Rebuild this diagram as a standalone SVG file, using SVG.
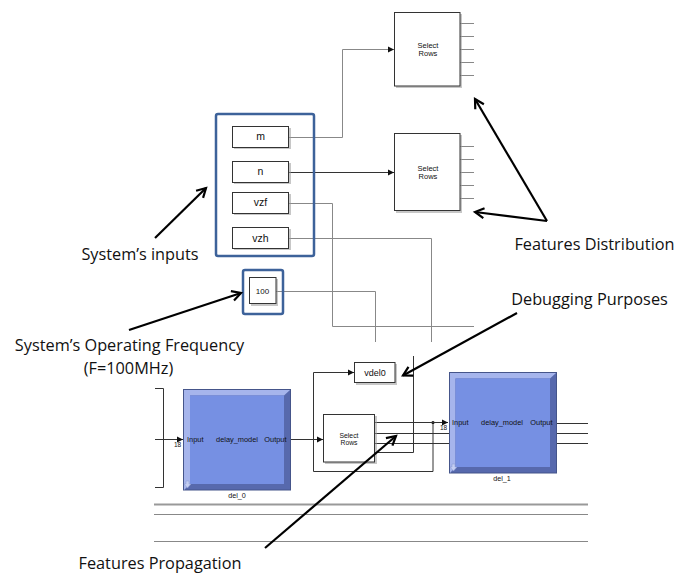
<svg xmlns="http://www.w3.org/2000/svg" width="677" height="574" viewBox="0 0 677 574">
<style>
.ann{font-family:"Open Sans","Liberation Sans",sans-serif;font-size:16.3px;fill:#111;text-anchor:middle}
.blk{fill:#fff;stroke:#333;stroke-width:1}
.shd{fill:#999;opacity:.55}
.lbl{font-family:"Liberation Sans",Arial,sans-serif;fill:#111;text-anchor:middle}
.grp{fill:none;stroke:#3d629a;stroke-width:2.5}
.gl{fill:none;stroke:#888;stroke-width:1}
.dl{fill:none;stroke:#333;stroke-width:1}
.arw{fill:none;stroke:#000;stroke-width:2.2}
.sm{font-family:"Liberation Sans",Arial,sans-serif;font-size:6.5px;fill:#111}
.face{fill:#7690e3}
.dark{fill:#5769ad;stroke:#45558a;stroke-width:1}
.light{fill:#a6b5ec}
</style>
<defs>
<marker id="sig" markerUnits="userSpaceOnUse" markerWidth="7" markerHeight="7" refX="6" refY="3" orient="auto" overflow="visible">
<path d="M0,0 L6,3 L0,6 z" fill="#111"/>
</marker>
<marker id="open" markerUnits="userSpaceOnUse" markerWidth="12" markerHeight="12" refX="9" refY="5" orient="auto" overflow="visible">
<path d="M0,0 L9,5 L0,10" fill="none" stroke="#000" stroke-width="2.2"/>
</marker>
</defs>
<rect width="677" height="574" fill="#fff"/>

<g id="connectors">
<path class="gl" d="M289,137.5 H342.5 V49.5 H394" marker-end="url(#sig)"/>
<path class="dl" d="M289,172.5 H394" marker-end="url(#sig)"/>
<path class="gl" d="M289,203.5 H332.5 V326.5 H474"/>
<path class="gl" d="M289,238.5 H431.5 V342"/>
<path class="gl" d="M276,291.5 H375.5 V342"/>
<path class="gl" d="M460,23.5 H474 M460,36.5 H474 M460,49.5 H474 M460,62.5 H474 M460,75.5 H474"/>
<path class="gl" d="M460,146.5 H474 M460,159.5 H474 M460,172.5 H474 M460,185.5 H474 M460,198.5 H474"/>
<path class="dl" d="M433,423 V471.5 H313.5 V372.5 H354" marker-end="url(#sig)"/>
<circle cx="433" cy="422.5" r="1.6" fill="#111"/>
<path class="dl" d="M375,422.5 H448" marker-end="url(#sig)"/>
<path class="dl" d="M375,433.5 H588 M375,443.5 H588"/>
<path class="dl" d="M375,452.5 H413.5 V356"/>
<path class="dl" d="M290,439.5 H323" marker-end="url(#sig)"/>
<path class="dl" d="M155,439.5 H183" marker-end="url(#sig)"/>
<path class="dl" d="M155,388.5 H163.5 V487.5 H155"/>
<path class="dl" d="M557,423.5 H588"/>
<path fill="none" stroke="#999" stroke-width="2" d="M154,504.5 H588"/>
<path class="gl" d="M154,514.5 H588 M154,541.5 H588"/>
</g>

<g id="selrows1">
<rect class="shd" x="396" y="14" width="66" height="74"/>
<rect class="blk" x="394.5" y="12.5" width="65.5" height="73.5"/>
<text class="lbl" font-size="7.5" x="428" y="47.5">Select</text>
<text class="lbl" font-size="7.5" x="428" y="55.5">Rows</text>
</g>
<g id="selrows2">
<rect class="shd" x="396" y="135" width="66" height="78"/>
<rect class="blk" x="394.5" y="133.5" width="65.5" height="77"/>
<text class="lbl" font-size="7.5" x="428" y="171">Select</text>
<text class="lbl" font-size="7.5" x="428" y="179">Rows</text>
</g>

<g id="inputs">
<rect class="grp" x="216" y="114" width="98" height="142" rx="2"/>
<g id="in-m"><rect class="shd" x="234" y="128" width="57" height="21"/><rect class="blk" x="232.5" y="126.5" width="56" height="21"/><text class="lbl" font-size="10.5" x="260.5" y="140">m</text></g>
<g id="in-n"><rect class="shd" x="234" y="163" width="57" height="21"/><rect class="blk" x="232.5" y="161.5" width="56" height="21"/><text class="lbl" font-size="10.5" x="260.5" y="175">n</text></g>
<g id="in-vzf"><rect class="shd" x="234" y="194" width="57" height="21"/><rect class="blk" x="232.5" y="192.5" width="56" height="21"/><text class="lbl" font-size="10.5" x="260.5" y="206">vzf</text></g>
<g id="in-vzh"><rect class="shd" x="234" y="229" width="57" height="21"/><rect class="blk" x="232.5" y="227.5" width="56" height="21"/><text class="lbl" font-size="10.5" x="260.5" y="241.5">vzh</text></g>
</g>

<g id="freq">
<rect class="grp" x="243" y="270" width="40" height="44" rx="2"/>
<rect class="shd" x="251" y="279" width="27" height="27"/>
<rect class="blk" x="249.5" y="277.5" width="26.5" height="26"/>
<text class="lbl" font-size="8" x="262.5" y="294">100</text>
</g>

<g id="vdel0">
<rect class="shd" x="356" y="364" width="41" height="21"/>
<rect class="blk" x="354.5" y="362.5" width="40.5" height="20"/>
<text class="lbl" font-size="9" x="375" y="376">vdel0</text>
</g>

<g id="selrows3">
<rect class="shd" x="325" y="416" width="52" height="48"/>
<rect class="blk" x="323.5" y="414.5" width="51" height="47.5"/>
<text class="lbl" font-size="6.8" x="349" y="437.5">Select</text>
<text class="lbl" font-size="6.8" x="349" y="444.5">Rows</text>
</g>

<g id="del_0">
<rect class="dark" x="183.5" y="389.5" width="107" height="100.5"/>
<polygon class="light" points="184,390 290,390 284,395.5 190,395.5 190,484 184,490"/>
<rect class="face" x="190" y="395.5" width="94" height="88.5"/>
<path d="M186,481 h3 v3 h2 l-3.5,4 l-3.5,-4 h2 z" fill="#c4cef2" stroke="#8a9ad0" stroke-width="0.5"/>
<text class="lbl" font-size="7.4" x="187" y="441.5" style="text-anchor:start">Input</text>
<text class="lbl" font-size="7.4" x="237" y="441.5">delay_model</text>
<text class="lbl" font-size="7.4" x="286.5" y="441.5" style="text-anchor:end">Output</text>
<text class="lbl" font-size="7.2" x="237" y="498">del_0</text>
<text class="sm" x="174" y="447">18</text>
</g>

<g id="del_1">
<rect class="dark" x="449.5" y="372.5" width="107" height="100.5"/>
<polygon class="light" points="450,373 556,373 550,378.5 455.5,378.5 455.5,467 450,473"/>
<rect class="face" x="455.5" y="378.5" width="94.5" height="88.5"/>
<path d="M452,464 h3 v3 h2 l-3.5,4 l-3.5,-4 h2 z" fill="#c4cef2" stroke="#8a9ad0" stroke-width="0.5"/>
<text class="lbl" font-size="7.4" x="452" y="424.5" style="text-anchor:start">Input</text>
<text class="lbl" font-size="7.4" x="502" y="424.5">delay_model</text>
<text class="lbl" font-size="7.4" x="552.5" y="424.5" style="text-anchor:end">Output</text>
<text class="lbl" font-size="7.2" x="502" y="480.5">del_1</text>
<text class="sm" x="440" y="430">18</text>
</g>

<g id="annotations">
<path class="arw" d="M155,238 L206,188" marker-end="url(#open)"/>
<path class="arw" d="M129,330 L241,293" marker-end="url(#open)"/>
<path class="arw" d="M547,221 L475,99" marker-end="url(#open)"/>
<path class="arw" d="M547,221 L475,212" marker-end="url(#open)"/>
<path class="arw" d="M517,313 L403,375.5" marker-end="url(#open)"/>
<path class="arw" d="M265,548 L396,436" marker-end="url(#open)"/>
<text class="ann" x="140" y="260">System’s inputs</text>
<text class="ann" x="129.5" y="351">System’s Operating Frequency</text>
<text class="ann" x="128.5" y="373.5">(F=100MHz)</text>
<text class="ann" x="594.5" y="249.5">Features Distribution</text>
<text class="ann" x="589.5" y="305">Debugging Purposes</text>
<text class="ann" x="160" y="569">Features Propagation</text>
</g>
</svg>
